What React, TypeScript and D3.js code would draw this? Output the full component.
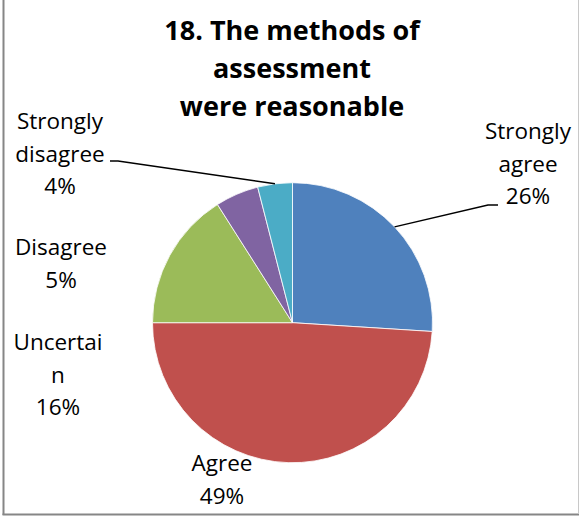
import React from "react";
import * as d3 from "d3";

const categories = ["Strongly agree", "Agree", "Uncertain", "Disagree", "Strongly disagree"];
const values = [26, 49, 16, 5, 4];
const labelLines = [
  ["Strongly", "agree", "26%"],
  ["Agree", "49%"],
  ["Uncertai", "n", "16%"],
  ["Disagree", "5%"],
  ["Strongly", "disagree", "4%"],
];
const colors = ["#4F81BD", "#C0504D", "#9BBB59", "#8064A2", "#4BACC6"];
const titleLines = ["18. The methods of", "assessment", "were reasonable"];

// layout (label anchor: center x, first baseline y)
const labelPos = [
  { x: 528, y: 139 },
  { x: 222, y: 471 },
  { x: 58, y: 350 },
  { x: 61, y: 255 },
  { x: 60, y: 129 },
];
// leader lines: [label-side endpoint x, y, horizontal stub end x]
const leaders: Record<number, { x1: number; y: number; x2: number }> = {
  0: { x1: 498, y: 205, x2: 488 },
  4: { x1: 110, y: 161, x2: 118 },
};

const W = 580;
const H = 529;
const cx = 292.5;
const cy = 322.7;
const R = 140;
const font = "'Open Sans', 'Noto Sans', sans-serif";
const lineH = 32.5;

export default function App() {
  const pie = d3.pie<number>().sort(null).value((d) => d)(values);
  const arc = d3.arc<d3.PieArcDatum<number>>().innerRadius(0).outerRadius(R);

  return (
    <svg
      width={W}
      height={H}
      style={{ position: "absolute", left: 0, top: 0, background: "#fff" }}
    >
      <rect x={0} y={0} width={W} height={H} fill="#fff" />
      {/* frame */}
      <line x1={3.5} y1={0} x2={3.5} y2={515} stroke="#868686" strokeWidth={2} />
      <line x1={2.5} y1={514.5} x2={579} y2={514.5} stroke="#868686" strokeWidth={2} />
      <line x1={578.5} y1={0} x2={578.5} y2={514} stroke="#c8c8c8" strokeWidth={1} />

      {/* title */}
      <g fontFamily={font} fontWeight="bold" fontSize={27} textAnchor="middle" fill="#000">
        {titleLines.map((t, i) => (
          <text key={i} x={292} y={40 + i * 38}>
            {t}
          </text>
        ))}
      </g>

      {/* pie */}
      <g transform={`translate(${cx},${cy})`}>
        {pie.map((p, i) => (
          <path key={categories[i]} d={arc(p) || ""} fill={colors[i]} stroke="#fff" strokeWidth={0.8} />
        ))}
      </g>

      {/* leader lines */}
      {pie.map((p, i) => {
        const L = leaders[i];
        if (!L) return null;
        const a = (p.startAngle + p.endAngle) / 2;
        const px = cx + R * Math.sin(a);
        const py = cy - R * Math.cos(a);
        return (
          <polyline
            key={"l" + i}
            points={`${L.x1},${L.y} ${L.x2},${L.y} ${px},${py}`}
            fill="none"
            stroke="#000"
            strokeWidth={1.5}
          />
        );
      })}

      {/* labels */}
      <g fontFamily={font} fontSize={22.5} textAnchor="middle" fill="#000">
        {labelLines.map((lines, i) => (
          <text key={"t" + i}>
            {lines.map((ln, j) => (
              <tspan key={j} x={labelPos[i].x} y={labelPos[i].y + j * lineH}>
                {ln}
              </tspan>
            ))}
          </text>
        ))}
      </g>
    </svg>
  );
}
